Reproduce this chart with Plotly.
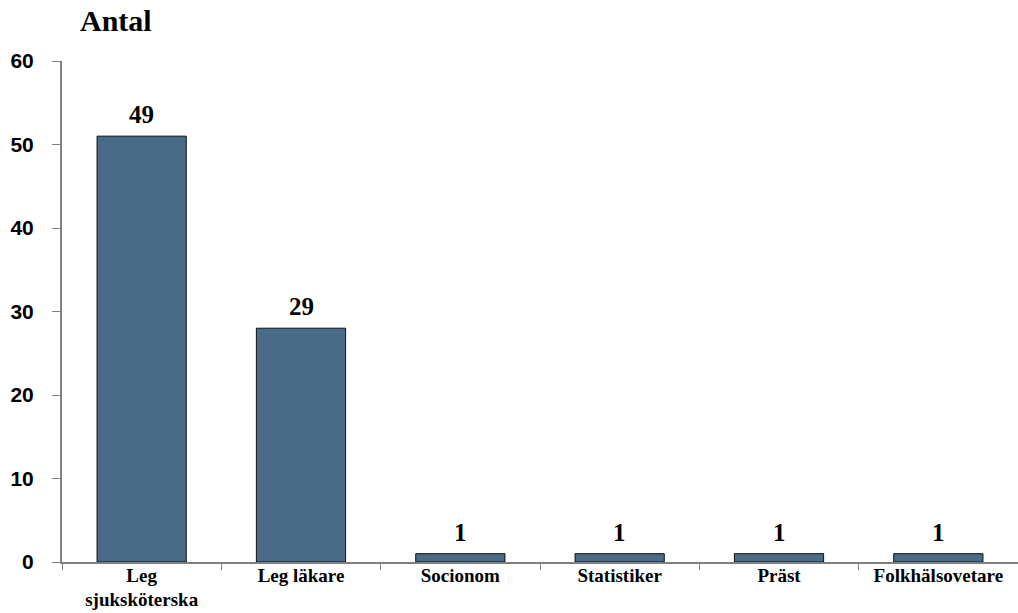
import plotly.graph_objects as go

categories = ["Leg<br>sjuksköterska", "Leg läkare", "Socionom", "Statistiker", "Präst", "Folkhälsovetare"]
bar_heights = [51, 28, 1, 1, 1, 1]
bar_labels = ["49", "29", "1", "1", "1", "1"]
y_ticks = [0, 10, 20, 30, 40, 50, 60]

fig = go.Figure()
fig.add_trace(go.Bar(
    x=categories, y=bar_heights,
    marker=dict(color="#4a6b87", line=dict(color="#111111", width=1)),
    width=0.56,
))

for c, h, t in zip(categories, bar_heights, bar_labels):
    fig.add_annotation(x=c, y=h, text=t, showarrow=False, yanchor="bottom", yshift=6,
                       font=dict(family="Liberation Serif", size=25, color="black", weight="bold"))

fig.add_annotation(xref="paper", yref="paper", x=0.017, y=1.0, yshift=22, xanchor="left", yanchor="bottom",
                   text="Antal", showarrow=False,
                   font=dict(family="Liberation Serif", size=30, color="black", weight="bold"))

fig.update_layout(
    width=1018, height=613,
    margin=dict(l=62, r=0, t=61, b=51, autoexpand=False),
    plot_bgcolor="white", paper_bgcolor="white",
    showlegend=False,
    bargap=0.44,
)
fig.update_yaxes(range=[0, 60], tickvals=y_ticks, showgrid=False, zeroline=False,
                 showline=True, linecolor="#808080", linewidth=2,
                 ticks="outside", ticklen=8, tickcolor="#808080", tickwidth=1,
                 tickfont=dict(family="Liberation Sans", size=21, color="black", weight="bold"),
                 ticklabelstandoff=14, automargin=False)
fig.update_xaxes(showgrid=False, showline=True, linecolor="#808080", linewidth=1.5,
                 ticks="outside", tickson="boundaries", ticklen=6, tickcolor="#808080",
                 tickfont=dict(family="Liberation Serif", size=19, color="black", weight="bold"),
                 ticklabelstandoff=-5, automargin=False)

fig.write_html("out.html")
